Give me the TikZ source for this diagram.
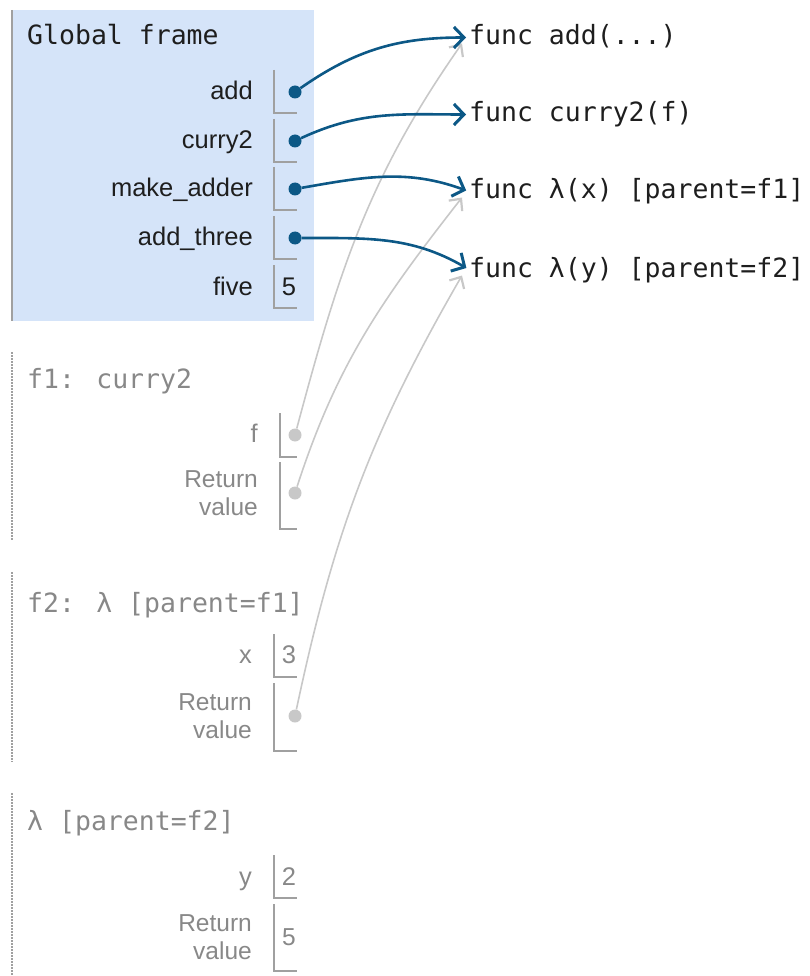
\documentclass[tikz,border=0pt]{standalone}
\usepackage{fontspec}
\setmainfont{Liberation Sans}
\newfontfamily\monofont{DejaVu Sans Mono}
\usetikzlibrary{arrows.meta}
\definecolor{framebg}{RGB}{213,228,249}
\definecolor{ptrblue}{RGB}{12,88,134}
\definecolor{ghost}{RGB}{200,200,200}
\definecolor{dimtext}{RGB}{136,136,136}
\definecolor{slotline}{RGB}{160,160,160}
\definecolor{ink}{RGB}{30,30,30}

\begin{document}
\begin{tikzpicture}[x=1pt,y=1pt,
  frametitle/.style={anchor=base west, inner sep=0pt,
    font=\monofont\fontsize{26.5}{30}\selectfont},
  objtext/.style={anchor=base west, inner sep=0pt, text height=19pt,
    text depth=4pt, text=ink, font=\monofont\fontsize{26.5}{30}\selectfont},
  varname/.style={anchor=base east, inner sep=0pt,
    font=\fontsize{25.5}{28}\selectfont},
  retname/.style={anchor=east, inner sep=0pt, align=right,
    font=\fontsize{24.5}{28}\selectfont},
  slot/.style={draw=slotline, line width=1.4pt},
  frameline/.style={draw=slotline, line width=1.5pt,
    dash pattern=on 1.5pt off 1.5pt},
  ptr/.style={draw=ptrblue, line width=2.6pt, shorten >=3pt,
    -{Straight Barb[length=10pt,width=21pt,line width=3pt]}},
  ghostptr/.style={draw=ghost, line width=1.6pt,
    -{Straight Barb[length=9pt,width=17pt,line width=2.2pt]}},
  dot/.style={circle, fill=ptrblue, inner sep=0pt, minimum size=13pt},
  ghostdot/.style={dot, fill=ghost}]

  \useasboundingbox (0,0) rectangle (810,-976);

  \fill[framebg] (12,-10) rectangle (314,-321);
  \draw[slotline, line width=1.5pt] (12,-10) -- (12,-321);
  \node[frametitle, text=ink] (global) at (27,-45) {Global frame};
  \foreach \y/\nm/\lbl in {92/add/add, 141/curry/curry2,
      189/adder/make\_adder, 238/three/add\_three, 287/five/five}{
    \node[varname, text=ink] (n-\nm) at (253,-\y-8) {\lbl};
    \draw[slot] (274,-\y+22) |- (297,-\y-21);
  }
  \node[dot] (d-add) at (295,-92) {};
  \node[dot] (d-curry) at (295,-141) {};
  \node[dot] (d-adder) at (295,-189) {};
  \node[dot] (d-three) at (295,-238) {};
  \node[varname, anchor=base, text=ink] (v-five) at (289,-295) {5};

  \node[objtext] (o-add) at (469,-45) {func add(...)};
  \node[objtext] (o-curry) at (469,-122) {func curry2(f)};
  \node[objtext] (o-lx) at (469,-199) {func λ(x) [parent=f1]};
  \node[objtext] (o-ly) at (469,-277) {func λ(y) [parent=f2]};

  \draw[frameline] (12,-352) -- (12,-541);
  \node[frametitle, text=dimtext] (f1) at (27,-388) {f1: curry2};
  \node[varname, text=dimtext] (n-f) at (258,-442) {f};
  \draw[slot] (280,-413) |- (297,-457);
  \node[ghostdot] (d-f) at (295,-435) {};
  \node[retname, text=dimtext] (n-ret1) at (258,-493) {Return\\value};
  \draw[slot] (280,-462) |- (297,-529);
  \node[ghostdot] (d-ret1) at (295,-493) {};

  \draw[frameline] (12,-572) -- (12,-762);
  \node[frametitle, text=dimtext] (f2) at (27,-612) {f2: λ [parent=f1]};
  \node[varname, text=dimtext] (n-x) at (252,-663) {x};
  \draw[slot] (274,-634) |- (297,-677);
  \node[varname, anchor=base, text=dimtext] (v-x) at (289,-663) {3};
  \node[retname, text=dimtext] (n-ret2) at (252,-716) {Return\\value};
  \draw[slot] (274,-683) |- (297,-751);
  \node[ghostdot] (d-ret2) at (295,-716) {};

  \draw[frameline] (12,-793) -- (12,-976);
  \node[frametitle, text=dimtext] (f3) at (27,-830) {λ [parent=f2]};
  \node[varname, text=dimtext] (n-y) at (252,-885) {y};
  \draw[slot] (274,-855) |- (297,-898);
  \node[varname, anchor=base, text=dimtext] (v-y) at (289,-885) {2};
  \node[retname, text=dimtext] (n-ret3) at (252,-937) {Return\\value};
  \draw[slot] (274,-904) |- (297,-971);
  \node[retname, anchor=center, text=dimtext] (v-ret3) at (289,-937) {5};

  \draw[ghostptr] (d-f) to[out=75,in=235] ([shift={(-7,-6)}]o-add.west);
  \draw[ghostptr] (d-ret1) to[out=72,in=232] ([shift={(-7,-6)}]o-lx.west);
  \draw[ghostptr] (d-ret2) to[out=78,in=240] ([shift={(-7,-6)}]o-ly.west);

  \draw[ptr] (d-add) to[out=35,in=180] (o-add.west);
  \draw[ptr] (d-curry) to[out=25,in=180] (o-curry.west);
  \draw[ptr] (d-adder) to[out=10,in=160] (o-lx.west);
  \draw[ptr] (d-three) to[out=0,in=150] (o-ly.west);
\end{tikzpicture}
\end{document}
